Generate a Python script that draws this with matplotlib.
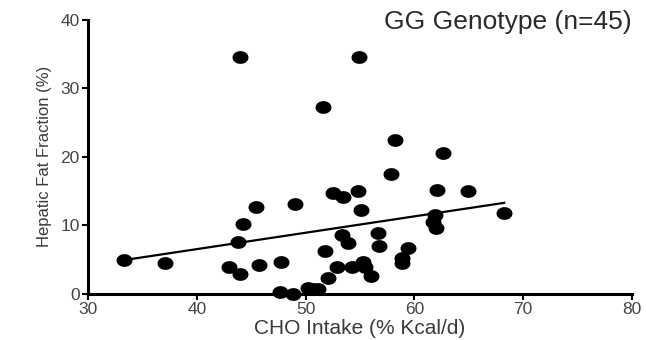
import numpy as np
import matplotlib
matplotlib.use("Agg")
import matplotlib.pyplot as plt
from matplotlib.path import Path

plt.rcParams['font.family'] = ['Liberation Sans', 'DejaVu Sans']

# Carbohydrate intake (% kcal/day) and hepatic fat fraction (%), GG genotype
cho_intake = [33.3, 37.1, 44.0, 54.9, 51.6, 58.2, 62.6, 57.85, 62.1, 64.9,
              54.8, 52.5, 53.45, 55.1, 45.45, 49.0, 44.25, 61.9, 61.7, 62.0,
              68.25, 43.8, 51.8, 53.35, 53.9, 56.65, 56.75, 59.4, 58.85, 58.85,
              52.9, 54.25, 55.3, 55.45, 56.0, 52.05, 42.95, 43.95, 45.7, 47.75,
              47.65, 48.85, 50.2, 51.15, 50.7]
hepatic_fat = [5.0, 4.5, 34.5, 34.5, 27.3, 22.4, 20.5, 17.5, 15.2, 15.0,
               15.0, 14.7, 14.1, 12.2, 12.7, 13.1, 10.2, 11.5, 10.5, 9.6,
               11.8, 7.6, 6.3, 8.6, 7.4, 8.9, 7.0, 6.7, 5.25, 4.5,
               3.9, 3.9, 4.65, 3.9, 2.6, 2.3, 3.9, 2.9, 4.2, 4.65,
               0.3, 0.0, 0.85, 0.7, 0.7]

x_ticks = [30, 40, 50, 60, 70, 80]
y_ticks = [0, 10, 20, 30, 40]

x = np.array(cho_intake)
y = np.array(hepatic_fat)

fig = plt.figure(figsize=(6.46, 3.40), dpi=100)
ax = fig.add_axes([88 / 646, 1 - 294 / 340, 544 / 646, 274.5 / 340])

# slightly flattened round marker
t = np.linspace(0, 2 * np.pi, 60)
ellipse = Path(np.column_stack([np.cos(t), 0.8 * np.sin(t)]), closed=True)

ax.scatter(x, y, s=132, marker=ellipse, color='black', linewidths=0,
           zorder=3, clip_on=False)

# least-squares regression line across the observed range
slope, intercept = np.polyfit(x, y, 1)
xs = np.array([x.min(), x.max()])
ax.plot(xs, slope * xs + intercept, color='black', lw=1.6, zorder=2)

ax.set_xlim(30, 80)
ax.set_ylim(0, 40)
ax.set_xticks(x_ticks)
ax.set_yticks(y_ticks)

for side in ('top', 'right'):
    ax.spines[side].set_visible(False)
for side in ('left', 'bottom'):
    ax.spines[side].set_linewidth(2.2)
    ax.spines[side].set_color('black')

ax.tick_params(axis='both', direction='out', length=4, width=1.5,
               labelsize=12.5, labelcolor='#444444', pad=2)

ax.set_xlabel('CHO Intake (% Kcal/d)', fontsize=15, color='#3a3a3a', labelpad=1)
ax.set_ylabel('Hepatic Fat Fraction (%)', fontsize=12, color='#3a3a3a', labelpad=6)

ax.text(1.0, 1.035, 'GG Genotype (n=45)', transform=ax.transAxes,
        ha='right', va='top', fontsize=19, color='#2a2a2a')

fig.savefig('out.png', dpi=100)
